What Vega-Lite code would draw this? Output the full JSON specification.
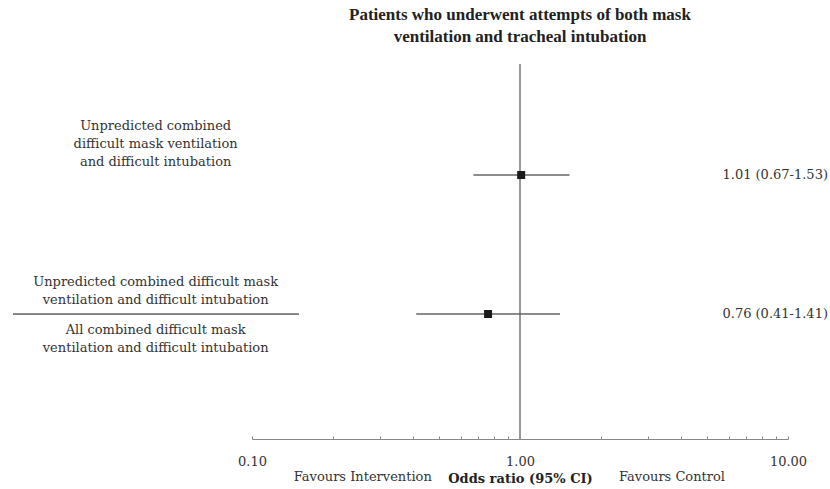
{
  "$schema": "https://vega.github.io/schema/vega-lite/v6.json",
  "width": 536,
  "height": 375,
  "autosize": {"type": "none"},
  "padding": {"left": 252, "top": 64, "right": 42, "bottom": 50},
  "background": "white",
  "config": {
    "view": {"stroke": null},
    "text": {"font": "DejaVu Serif", "fontSize": 13, "color": "#333", "lineBreak": "\n", "lineHeight": 18}
  },
  "title": {
    "text": ["Patients who underwent attempts of both mask", "ventilation and tracheal intubation"],
    "font": "Liberation Serif",
    "fontSize": 17,
    "fontWeight": "bold",
    "color": "#222",
    "anchor": "middle",
    "lineHeight": 22,
    "offset": 17
  },
  "datasets": {
    "studies": [
      {"row": 1, "label": "Unpredicted combined\ndifficult mask ventilation\nand difficult intubation", "or": 1.01, "lo": 0.67, "hi": 1.53, "ci": "1.01 (0.67-1.53)"},
      {"row": 2, "label": "Unpredicted combined difficult mask\nventilation and difficult intubation", "label2": "All combined difficult mask\nventilation and difficult intubation", "or": 0.76, "lo": 0.41, "hi": 1.41, "ci": "0.76 (0.41-1.41)"}
    ],
    "notes": [
      {"note": "Favours Intervention", "side": "left"},
      {"note": "Favours Control", "side": "right"}
    ],
    "ref": [{"value": 1}]
  },
  "layer": [
    {
      "data": {"name": "ref"},
      "mark": {"type": "rule", "color": "#999", "strokeWidth": 2},
      "encoding": {
        "x": {"field": "value", "type": "quantitative", "scale": {"type": "log", "domain": [0.1, 10], "nice": false},
          "axis": {
            "values": [0.1, 0.2, 0.3, 0.4, 0.5, 0.6, 0.7, 0.8, 0.9, 1, 2, 3, 4, 5, 6, 7, 8, 9, 10],
            "labelExpr": "(datum.value == 0.1 || datum.value == 1 || datum.value == 10) ? format(datum.value, '.2f') : ''",
            "grid": false,
            "domainColor": "#888",
            "tickColor": "#888",
            "tickSize": -3,
            "labelFont": "DejaVu Serif",
            "labelFontSize": 13,
            "labelColor": "#333",
            "labelPadding": 19,
            "labelFlush": false,
            "labelOverlap": false,
            "title": "Odds ratio (95% CI)",
            "titleFont": "DejaVu Serif",
            "titleFontSize": 13,
            "titleFontWeight": "bold",
            "titleColor": "#222",
            "titlePadding": 4
          }
        }
      }
    },
    {
      "data": {"name": "studies"},
      "mark": {"type": "rule", "color": "#666", "strokeWidth": 1.5},
      "encoding": {
        "x": {"field": "lo", "type": "quantitative", "scale": {"type": "log", "domain": [0.1, 10], "nice": false}},
        "x2": {"field": "hi"},
        "y": {"field": "row", "type": "quantitative", "scale": {"domain": [0.2014, 2.899], "reverse": true, "nice": false, "zero": false}, "axis": null}
      }
    },
    {
      "data": {"name": "studies"},
      "mark": {"type": "square", "color": "#1a1a1a", "opacity": 1, "size": 64},
      "encoding": {
        "x": {"field": "or", "type": "quantitative", "scale": {"type": "log", "domain": [0.1, 10], "nice": false}},
        "y": {"field": "row", "type": "quantitative", "scale": {"domain": [0.2014, 2.899], "reverse": true, "nice": false, "zero": false}, "axis": null}
      }
    },
    {
      "data": {"name": "studies"},
      "mark": {"type": "text", "align": "right", "baseline": "middle"},
      "encoding": {
        "x": {"datum": 14.1, "type": "quantitative", "scale": {"type": "log", "domain": [0.1, 10], "nice": false}},
        "y": {"field": "row", "type": "quantitative", "scale": {"domain": [0.2014, 2.899], "reverse": true, "nice": false, "zero": false}, "axis": null},
        "text": {"field": "ci"}
      }
    },
    {
      "data": {"name": "studies"},
      "transform": [{"filter": "datum.row == 1"}],
      "mark": {"type": "text", "align": "center", "baseline": "middle", "dy": -49},
      "encoding": {
        "x": {"datum": 0.0437, "type": "quantitative", "scale": {"type": "log", "domain": [0.1, 10], "nice": false}},
        "y": {"field": "row", "type": "quantitative", "scale": {"domain": [0.2014, 2.899], "reverse": true, "nice": false, "zero": false}, "axis": null},
        "text": {"field": "label"}
      }
    },
    {
      "data": {"name": "studies"},
      "transform": [{"filter": "datum.row == 2"}],
      "mark": {"type": "text", "align": "center", "baseline": "middle", "dy": -32},
      "encoding": {
        "x": {"datum": 0.0437, "type": "quantitative", "scale": {"type": "log", "domain": [0.1, 10], "nice": false}},
        "y": {"field": "row", "type": "quantitative", "scale": {"domain": [0.2014, 2.899], "reverse": true, "nice": false, "zero": false}, "axis": null},
        "text": {"field": "label"}
      }
    },
    {
      "data": {"name": "studies"},
      "transform": [{"filter": "datum.row == 2"}],
      "mark": {"type": "text", "align": "center", "baseline": "middle", "dy": 16},
      "encoding": {
        "x": {"datum": 0.0437, "type": "quantitative", "scale": {"type": "log", "domain": [0.1, 10], "nice": false}},
        "y": {"field": "row", "type": "quantitative", "scale": {"domain": [0.2014, 2.899], "reverse": true, "nice": false, "zero": false}, "axis": null},
        "text": {"field": "label2"}
      }
    },
    {
      "data": {"name": "studies"},
      "transform": [{"filter": "datum.row == 2"}],
      "mark": {"type": "rule", "color": "#111", "strokeWidth": 1},
      "encoding": {
        "x": {"datum": 0.01283, "type": "quantitative", "scale": {"type": "log", "domain": [0.1, 10], "nice": false}},
        "x2": {"datum": 0.1497},
        "y": {"field": "row", "type": "quantitative", "scale": {"domain": [0.2014, 2.899], "reverse": true, "nice": false, "zero": false}, "axis": null}
      }
    },
    {
      "data": {"name": "notes"},
      "transform": [{"filter": "datum.side == 'left'"}],
      "mark": {"type": "text", "align": "center", "baseline": "middle"},
      "encoding": {
        "x": {"datum": 0.259, "type": "quantitative", "scale": {"type": "log", "domain": [0.1, 10], "nice": false}},
        "y": {"datum": 3.173, "type": "quantitative", "scale": {"domain": [0.2014, 2.899], "reverse": true, "nice": false, "zero": false}, "axis": null},
        "text": {"field": "note"}
      }
    },
    {
      "data": {"name": "notes"},
      "transform": [{"filter": "datum.side == 'right'"}],
      "mark": {"type": "text", "align": "center", "baseline": "middle"},
      "encoding": {
        "x": {"datum": 3.69, "type": "quantitative", "scale": {"type": "log", "domain": [0.1, 10], "nice": false}},
        "y": {"datum": 3.173, "type": "quantitative", "scale": {"domain": [0.2014, 2.899], "reverse": true, "nice": false, "zero": false}, "axis": null},
        "text": {"field": "note"}
      }
    }
  ]
}
